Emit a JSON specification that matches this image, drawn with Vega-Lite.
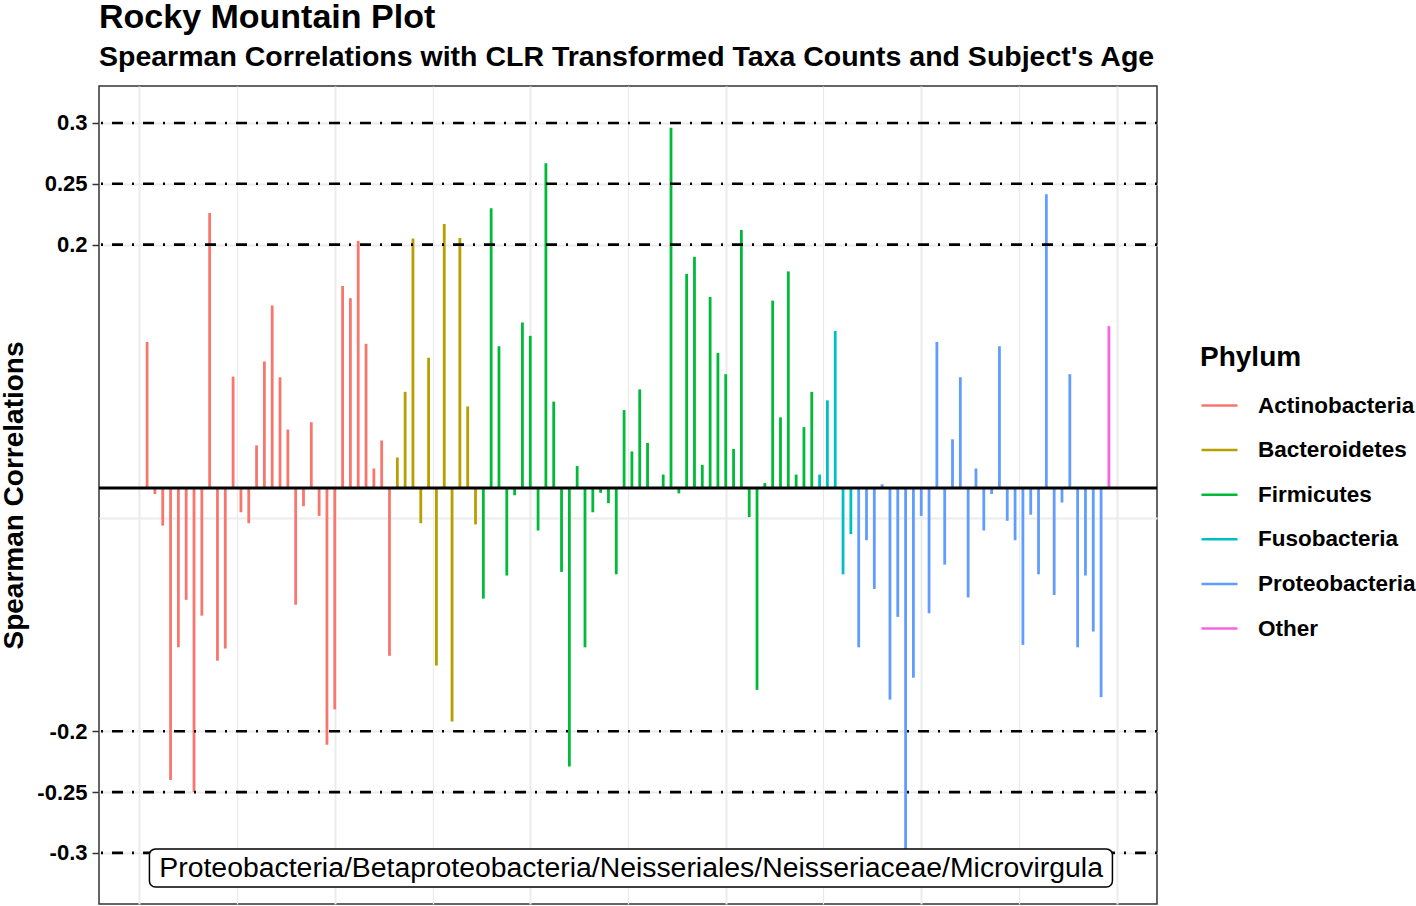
{
  "$schema": "https://vega.github.io/schema/vega-lite/v6.json",
  "width": 1058,
  "height": 818,
  "autosize": {"type": "none"},
  "padding": {"left": 99, "top": 86, "right": 259, "bottom": 2},
  "background": "white",
  "title": {
    "text": "Rocky Mountain Plot",
    "subtitle": "Spearman Correlations with CLR Transformed Taxa Counts and Subject's Age",
    "anchor": "start",
    "frame": "group",
    "font": "Liberation Sans",
    "fontSize": 34,
    "fontWeight": "bold",
    "color": "black",
    "subtitleFont": "Liberation Sans",
    "subtitleFontSize": 28.5,
    "subtitleFontWeight": "bold",
    "subtitleColor": "black",
    "subtitlePadding": 8,
    "offset": 15
  },
  "config": {
    "view": {"stroke": "#333333", "strokeWidth": 1.5},
    "font": "Liberation Sans"
  },
  "datasets": {
    "bars": [
      {"i": 1, "phylum": "Actinobacteria", "r": 0.12},
      {"i": 2, "phylum": "Actinobacteria", "r": -0.005},
      {"i": 3, "phylum": "Actinobacteria", "r": -0.031},
      {"i": 4, "phylum": "Actinobacteria", "r": -0.24},
      {"i": 5, "phylum": "Actinobacteria", "r": -0.131},
      {"i": 6, "phylum": "Actinobacteria", "r": -0.092},
      {"i": 7, "phylum": "Actinobacteria", "r": -0.25},
      {"i": 8, "phylum": "Actinobacteria", "r": -0.105},
      {"i": 9, "phylum": "Actinobacteria", "r": 0.226},
      {"i": 10, "phylum": "Actinobacteria", "r": -0.142},
      {"i": 11, "phylum": "Actinobacteria", "r": -0.132},
      {"i": 12, "phylum": "Actinobacteria", "r": 0.0915},
      {"i": 13, "phylum": "Actinobacteria", "r": -0.02},
      {"i": 14, "phylum": "Actinobacteria", "r": -0.029},
      {"i": 15, "phylum": "Actinobacteria", "r": 0.035},
      {"i": 16, "phylum": "Actinobacteria", "r": 0.104},
      {"i": 17, "phylum": "Actinobacteria", "r": 0.15},
      {"i": 18, "phylum": "Actinobacteria", "r": 0.091},
      {"i": 19, "phylum": "Actinobacteria", "r": 0.048},
      {"i": 20, "phylum": "Actinobacteria", "r": -0.096},
      {"i": 21, "phylum": "Actinobacteria", "r": -0.015},
      {"i": 22, "phylum": "Actinobacteria", "r": 0.054},
      {"i": 23, "phylum": "Actinobacteria", "r": -0.023},
      {"i": 24, "phylum": "Actinobacteria", "r": -0.211},
      {"i": 25, "phylum": "Actinobacteria", "r": -0.182},
      {"i": 26, "phylum": "Actinobacteria", "r": 0.166},
      {"i": 27, "phylum": "Actinobacteria", "r": 0.156},
      {"i": 28, "phylum": "Actinobacteria", "r": 0.203},
      {"i": 29, "phylum": "Actinobacteria", "r": 0.1185},
      {"i": 30, "phylum": "Actinobacteria", "r": 0.016},
      {"i": 31, "phylum": "Actinobacteria", "r": 0.039},
      {"i": 32, "phylum": "Actinobacteria", "r": -0.138},
      {"i": 33, "phylum": "Bacteroidetes", "r": 0.025},
      {"i": 34, "phylum": "Bacteroidetes", "r": 0.079},
      {"i": 35, "phylum": "Bacteroidetes", "r": 0.205},
      {"i": 36, "phylum": "Bacteroidetes", "r": -0.029},
      {"i": 37, "phylum": "Bacteroidetes", "r": 0.107},
      {"i": 38, "phylum": "Bacteroidetes", "r": -0.146},
      {"i": 39, "phylum": "Bacteroidetes", "r": 0.217},
      {"i": 40, "phylum": "Bacteroidetes", "r": -0.192},
      {"i": 41, "phylum": "Bacteroidetes", "r": 0.2055},
      {"i": 42, "phylum": "Bacteroidetes", "r": 0.067},
      {"i": 43, "phylum": "Bacteroidetes", "r": -0.03},
      {"i": 44, "phylum": "Firmicutes", "r": -0.091},
      {"i": 45, "phylum": "Firmicutes", "r": 0.23},
      {"i": 46, "phylum": "Firmicutes", "r": 0.1165},
      {"i": 47, "phylum": "Firmicutes", "r": -0.072},
      {"i": 48, "phylum": "Firmicutes", "r": -0.006},
      {"i": 49, "phylum": "Firmicutes", "r": 0.136},
      {"i": 50, "phylum": "Firmicutes", "r": 0.125},
      {"i": 51, "phylum": "Firmicutes", "r": -0.035},
      {"i": 52, "phylum": "Firmicutes", "r": 0.267},
      {"i": 53, "phylum": "Firmicutes", "r": 0.071},
      {"i": 54, "phylum": "Firmicutes", "r": -0.069},
      {"i": 55, "phylum": "Firmicutes", "r": -0.229},
      {"i": 56, "phylum": "Firmicutes", "r": 0.018},
      {"i": 57, "phylum": "Firmicutes", "r": -0.131},
      {"i": 58, "phylum": "Firmicutes", "r": -0.02},
      {"i": 59, "phylum": "Firmicutes", "r": -0.004},
      {"i": 60, "phylum": "Firmicutes", "r": -0.0125},
      {"i": 61, "phylum": "Firmicutes", "r": -0.071},
      {"i": 62, "phylum": "Firmicutes", "r": 0.064},
      {"i": 63, "phylum": "Firmicutes", "r": 0.03},
      {"i": 64, "phylum": "Firmicutes", "r": 0.081},
      {"i": 65, "phylum": "Firmicutes", "r": 0.037},
      {"i": 66, "phylum": "Firmicutes", "r": -0.001},
      {"i": 67, "phylum": "Firmicutes", "r": 0.011},
      {"i": 68, "phylum": "Firmicutes", "r": 0.296},
      {"i": 69, "phylum": "Firmicutes", "r": -0.0045},
      {"i": 70, "phylum": "Firmicutes", "r": 0.176},
      {"i": 71, "phylum": "Firmicutes", "r": 0.19},
      {"i": 72, "phylum": "Firmicutes", "r": 0.019},
      {"i": 73, "phylum": "Firmicutes", "r": 0.157},
      {"i": 74, "phylum": "Firmicutes", "r": 0.111},
      {"i": 75, "phylum": "Firmicutes", "r": 0.0935},
      {"i": 76, "phylum": "Firmicutes", "r": 0.032},
      {"i": 77, "phylum": "Firmicutes", "r": 0.212},
      {"i": 78, "phylum": "Firmicutes", "r": -0.024},
      {"i": 79, "phylum": "Firmicutes", "r": -0.166},
      {"i": 80, "phylum": "Firmicutes", "r": 0.004},
      {"i": 81, "phylum": "Firmicutes", "r": 0.154},
      {"i": 82, "phylum": "Firmicutes", "r": 0.058},
      {"i": 83, "phylum": "Firmicutes", "r": 0.178},
      {"i": 84, "phylum": "Firmicutes", "r": 0.011},
      {"i": 85, "phylum": "Firmicutes", "r": 0.05},
      {"i": 86, "phylum": "Firmicutes", "r": 0.079},
      {"i": 87, "phylum": "Fusobacteria", "r": 0.011},
      {"i": 88, "phylum": "Fusobacteria", "r": 0.072},
      {"i": 89, "phylum": "Fusobacteria", "r": 0.129},
      {"i": 90, "phylum": "Fusobacteria", "r": -0.071},
      {"i": 91, "phylum": "Fusobacteria", "r": -0.038},
      {"i": 92, "phylum": "Proteobacteria", "r": -0.131},
      {"i": 93, "phylum": "Proteobacteria", "r": -0.043},
      {"i": 94, "phylum": "Proteobacteria", "r": -0.083},
      {"i": 95, "phylum": "Proteobacteria", "r": 0.003},
      {"i": 96, "phylum": "Proteobacteria", "r": -0.174},
      {"i": 97, "phylum": "Proteobacteria", "r": -0.106},
      {"i": 98, "phylum": "Proteobacteria", "r": -0.311},
      {"i": 99, "phylum": "Proteobacteria", "r": -0.156},
      {"i": 100, "phylum": "Proteobacteria", "r": -0.023},
      {"i": 101, "phylum": "Proteobacteria", "r": -0.103},
      {"i": 102, "phylum": "Proteobacteria", "r": 0.12},
      {"i": 103, "phylum": "Proteobacteria", "r": -0.063},
      {"i": 104, "phylum": "Proteobacteria", "r": 0.04},
      {"i": 105, "phylum": "Proteobacteria", "r": 0.091},
      {"i": 106, "phylum": "Proteobacteria", "r": -0.09},
      {"i": 107, "phylum": "Proteobacteria", "r": 0.016},
      {"i": 108, "phylum": "Proteobacteria", "r": -0.035},
      {"i": 109, "phylum": "Proteobacteria", "r": -0.005},
      {"i": 110, "phylum": "Proteobacteria", "r": 0.1165},
      {"i": 111, "phylum": "Proteobacteria", "r": -0.027},
      {"i": 112, "phylum": "Proteobacteria", "r": -0.043},
      {"i": 113, "phylum": "Proteobacteria", "r": -0.129},
      {"i": 114, "phylum": "Proteobacteria", "r": -0.022},
      {"i": 115, "phylum": "Proteobacteria", "r": -0.071},
      {"i": 116, "phylum": "Proteobacteria", "r": 0.2415},
      {"i": 117, "phylum": "Proteobacteria", "r": -0.088},
      {"i": 118, "phylum": "Proteobacteria", "r": -0.012},
      {"i": 119, "phylum": "Proteobacteria", "r": 0.0935},
      {"i": 120, "phylum": "Proteobacteria", "r": -0.131},
      {"i": 121, "phylum": "Proteobacteria", "r": -0.072},
      {"i": 122, "phylum": "Proteobacteria", "r": -0.118},
      {"i": 123, "phylum": "Proteobacteria", "r": -0.172},
      {"i": 124, "phylum": "Other", "r": 0.133}
    ],
    "refs": [
      {"h": -0.3}, {"h": -0.25}, {"h": -0.2}, {"h": 0.2}, {"h": 0.25}, {"h": 0.3}
    ],
    "annot": [
      {"x": 62.9, "y": -0.3123, "label": "Proteobacteria/Betaproteobacteria/Neisseriales/Neisseriaceae/Microvirgula"}
    ]
  },
  "resolve": {"axis": {"x": "independent", "y": "independent"}},
  "layer": [
    {
      "data": {"name": "bars"},
      "mark": {"type": "rule", "strokeWidth": 2.8, "strokeCap": "butt"},
      "encoding": {
        "x": {
          "field": "i", "type": "quantitative",
          "scale": {"domain": [-5.15, 130.15], "nice": false, "zero": false},
          "axis": {
            "orient": "bottom", "values": [0, 25, 50, 75, 100, 125],
            "labels": false, "ticks": false, "domain": false, "title": null,
            "grid": true, "gridColor": "#EBEBEB", "gridWidth": 2
          }
        },
        "y": {
          "field": "r", "type": "quantitative",
          "scale": {"domain": [-0.342, 0.3304], "nice": false, "zero": false},
          "axis": {
            "orient": "left",
            "values": [-0.3, -0.25, -0.2, 0.2, 0.25, 0.3],
            "labelExpr": "replace(format(datum.value, '.2~f'), '\u2212', '-')",
            "labelFont": "Liberation Sans", "labelFontSize": 22, "labelFontWeight": "bold", "labelColor": "black",
            "labelPadding": 5,
            "ticks": true, "tickSize": 7, "tickWidth": 1.5, "tickColor": "#333333",
            "domain": false,
            "grid": true, "gridColor": "#EBEBEB", "gridWidth": 2,
            "title": "Spearman Correlations",
            "titleFont": "Liberation Sans", "titleFontSize": 28, "titleFontWeight": "bold", "titleColor": "black",
            "titlePadding": 8
          }
        },
        "y2": {"datum": 0},
        "color": {
          "field": "phylum", "type": "nominal",
          "scale": {
            "domain": ["Actinobacteria", "Bacteroidetes", "Firmicutes", "Fusobacteria", "Proteobacteria", "Other"],
            "range": ["#F8766D", "#B79F00", "#00BA38", "#00BFC4", "#619CFF", "#F564E3"]
          },
          "legend": {
            "title": "Phylum",
            "orient": "none", "legendX": 1101, "legendY": 258,
            "padding": 0,
            "titleFont": "Liberation Sans", "titleFontSize": 28, "titleFontWeight": "bold", "titleColor": "black",
            "titlePadding": 14,
            "labelFont": "Liberation Sans", "labelFontSize": 22.5, "labelFontWeight": "bold", "labelColor": "black",
            "labelOffset": 19,
            "symbolType": "stroke", "symbolSize": 1296, "symbolStrokeWidth": 2.5,
            "rowPadding": 13.6
          }
        }
      }
    },
    {
      "data": {"name": "refs"},
      "mark": {"type": "rule", "color": "black", "strokeWidth": 2.6, "strokeDash": [2, 9, 11, 9], "strokeCap": "butt"},
      "encoding": {
        "y": {"field": "h", "type": "quantitative", "axis": null}
      }
    },
    {
      "data": {"name": "annot"},
      "mark": {"type": "rule", "color": "black", "strokeWidth": 3},
      "encoding": {
        "y": {"datum": 0, "type": "quantitative", "axis": null}
      }
    },
    {
      "data": {"name": "annot"},
      "mark": {"type": "rect", "fill": "white", "stroke": "black", "strokeWidth": 1.5, "cornerRadius": 6},
      "encoding": {
        "x": {"datum": 1.3, "type": "quantitative",
          "axis": {
            "orient": "top", "values": [12.5, 37.5, 62.5, 87.5, 112.5],
            "labels": false, "ticks": false, "domain": false, "title": null,
            "grid": true, "gridColor": "#EBEBEB", "gridWidth": 1.2
          }
        },
        "x2": {"datum": 124.45},
        "y": {"datum": -0.2967, "type": "quantitative",
          "axis": {
            "orient": "right", "values": [-0.025],
            "labels": false, "ticks": false, "domain": false, "title": null,
            "grid": true, "gridColor": "#EBEBEB", "gridWidth": 2
          }
        },
        "y2": {"datum": -0.328}
      }
    },
    {
      "data": {"name": "annot"},
      "mark": {"type": "text", "font": "Liberation Sans", "fontSize": 28.4, "color": "black", "align": "center", "baseline": "middle"},
      "encoding": {
        "x": {"field": "x", "type": "quantitative", "axis": null},
        "y": {"field": "y", "type": "quantitative", "axis": null},
        "text": {"field": "label"}
      }
    }
  ]
}
